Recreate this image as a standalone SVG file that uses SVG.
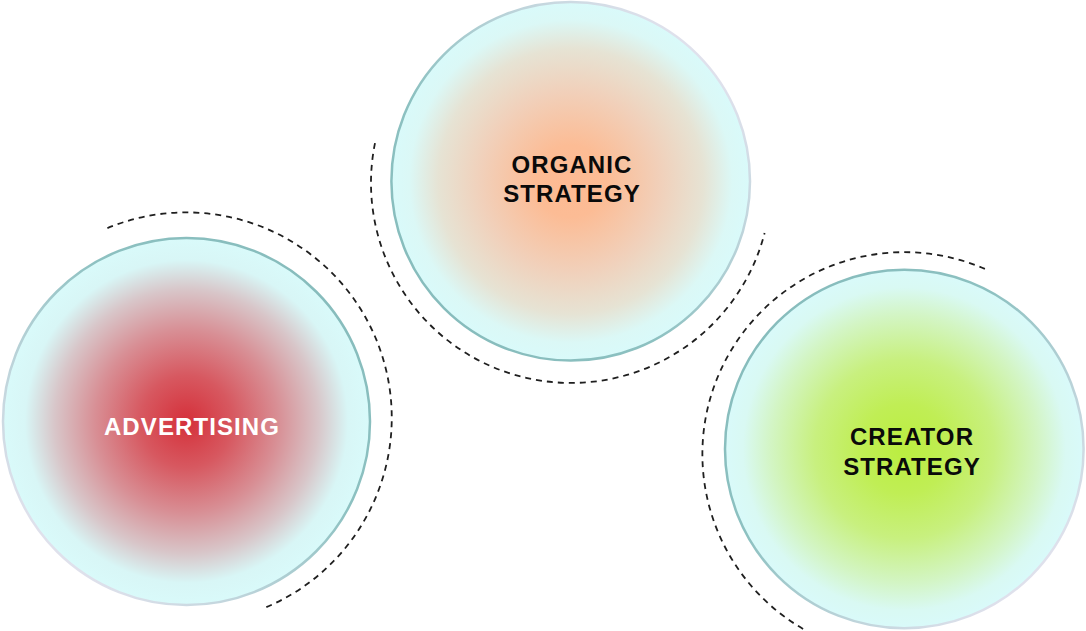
<svg xmlns="http://www.w3.org/2000/svg" width="1086" height="631" viewBox="0 0 1086 631">
  <style>
    .ring { stroke-width: 2.5; }
    .dash { fill: none; stroke: #1f1f1f; stroke-width: 1.8; stroke-dasharray: 6 5; }
    .label { font-family: "Liberation Sans", Arial, sans-serif; font-weight: bold; font-size: 24px; letter-spacing: 1.1px; text-anchor: middle; }
  </style>
  <defs>
    <radialGradient id="gAd" cx="0.5" cy="0.5" r="0.5">
      <stop offset="0" stop-color="#d5303a"/>
      <stop offset="0.25" stop-color="#d75860"/>
      <stop offset="0.5" stop-color="#d88f95"/>
      <stop offset="0.72" stop-color="#d8c6c9"/>
      <stop offset="0.88" stop-color="#d8f6f6"/>
      <stop offset="1" stop-color="#d9fafa"/>
    </radialGradient>
    <radialGradient id="gOr" cx="0.5" cy="0.5" r="0.5">
      <stop offset="0" stop-color="#fdba93"/>
      <stop offset="0.2" stop-color="#fcbc95"/>
      <stop offset="0.5" stop-color="#f1d0ba"/>
      <stop offset="0.74" stop-color="#e6e3d4"/>
      <stop offset="0.9" stop-color="#dbf8f6"/>
      <stop offset="1" stop-color="#d9fafa"/>
    </radialGradient>
    <radialGradient id="gCr" cx="0.5" cy="0.5" r="0.5">
      <stop offset="0" stop-color="#bbee40"/>
      <stop offset="0.25" stop-color="#c0ee55"/>
      <stop offset="0.5" stop-color="#c8f07f"/>
      <stop offset="0.75" stop-color="#d3f5c5"/>
      <stop offset="0.9" stop-color="#d9f9f3"/>
      <stop offset="1" stop-color="#d9fafa"/>
    </radialGradient>
    <linearGradient id="sAd" x1="1" y1="0" x2="0" y2="1">
      <stop offset="0" stop-color="#84baba"/>
      <stop offset="0.4" stop-color="#8dc1c1"/>
      <stop offset="0.85" stop-color="#dfe1ec"/>
      <stop offset="1" stop-color="#e4e3ef"/>
    </linearGradient>
    <linearGradient id="sOr" x1="0" y1="1" x2="1" y2="0">
      <stop offset="0" stop-color="#84baba"/>
      <stop offset="0.4" stop-color="#8dc1c1"/>
      <stop offset="0.85" stop-color="#dfe1ec"/>
      <stop offset="1" stop-color="#e4e3ef"/>
    </linearGradient>
    <linearGradient id="sCr" x1="0" y1="0" x2="1" y2="1">
      <stop offset="0" stop-color="#84baba"/>
      <stop offset="0.4" stop-color="#8dc1c1"/>
      <stop offset="0.85" stop-color="#dfe1ec"/>
      <stop offset="1" stop-color="#e4e3ef"/>
    </linearGradient>
  </defs>

  <g id="connectors">
    <path class="dash" d="M107.4,228.1 A205.5,205.5 0 0 1 265.3,607.6"/>
    <path class="dash" d="M375,143.1 A200,200 0 0 0 764.6,233.1"/>
    <path class="dash" d="M984.9,268.9 A202,202 0 0 0 807.3,631.3"/>
  </g>

  <g id="advertising">
    <circle class="ring" cx="186.5" cy="421.5" r="183.5" fill="url(#gAd)" stroke="url(#sAd)"/>
    <text class="label" x="192" y="435" fill="#ffffff">ADVERTISING</text>
  </g>

  <g id="organic-strategy">
    <circle class="ring" cx="570.7" cy="181.3" r="179.3" fill="url(#gOr)" stroke="url(#sOr)"/>
    <text class="label" x="572" y="173.3" fill="#0a0a0a">ORGANIC</text>
    <text class="label" x="572" y="202.3" fill="#0a0a0a">STRATEGY</text>
  </g>

  <g id="creator-strategy">
    <circle class="ring" cx="904.3" cy="449" r="179.3" fill="url(#gCr)" stroke="url(#sCr)"/>
    <text class="label" x="912" y="445.3" fill="#0a0a0a">CREATOR</text>
    <text class="label" x="912" y="475.3" fill="#0a0a0a">STRATEGY</text>
  </g>
</svg>
